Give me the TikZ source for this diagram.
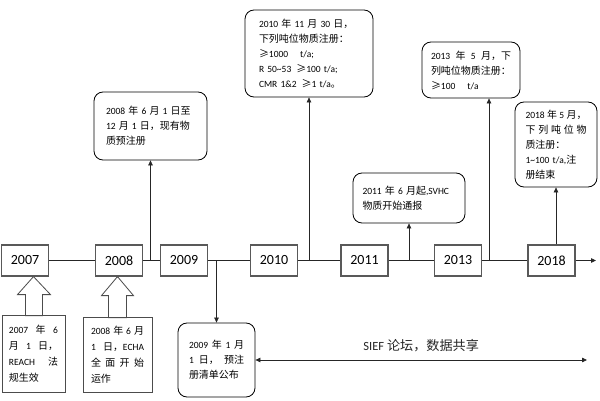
\documentclass[tikz,border=0pt]{standalone}
\usepackage{fontspec}
\setmainfont{Carlito}
\newfontfamily\zhfont[Scale=1.05]{Noto Sans CJK SC}
\newcommand\zh[1]{{\zhfont #1}}
\usepackage{tikz}
\usetikzlibrary{arrows.meta}

\begin{document}
\begin{tikzpicture}[
    x=1pt, y=-1pt,
    font=\fontsize{9.5}{15}\selectfont,
    yearbox/.style={rectangle, draw=black!65, line width=1.2pt, fill=white,
                    minimum width=47pt, minimum height=31pt, inner sep=0pt,
                    font=\fontsize{14}{16}\selectfont},
    note/.style={rectangle, rounded corners=9pt, draw=black, line width=0.8pt,
                 fill=white, align=left, inner sep=0pt},
    flatnote/.style={note, rounded corners=0pt, draw=black!70,
                     font=\fontsize{9.5}{16}\selectfont},
    arr/.style={-{Triangle[length=5pt,width=4.5pt]}, line width=0.6pt, black!85},
    biarr/.style={{Triangle[length=5pt,width=4.5pt]}-{Triangle[length=5pt,width=4.5pt]},
                  line width=0.8pt, black!85},
    tline/.style={line width=0.8pt, black!85},
    hollow/.style={draw=black!70, line width=0.8pt, fill=white, line join=miter}
]

% ---- Canvas ----
\fill[white] (0,0) rectangle (600,401);
\useasboundingbox (0,0) rectangle (600,401);

% ---- Timeline ----
\node[yearbox] (yr2007) at (25,260.5) {2007};
\node[yearbox] (yr2008) at (119,260.5) {2008};
\node[yearbox] (yr2009) at (184,260.5) {2009};
\node[yearbox] (yr2010) at (274,260.5) {2010};
\node[yearbox] (yr2011) at (364.5,260.5) {2011};
\node[yearbox] (yr2013) at (458,260.5) {2013};
\node[yearbox] (yr2018) at (551.5,260.5) {2018};
\coordinate (tlend) at (596,260.5);
\coordinate (up13) at (489,260.5);

\foreach \a/\b in {2007/2008,2008/2009,2009/2010,2010/2011,2011/2013,2013/2018}
    \draw[tline] (yr\a.east) -- (yr\b.west);
\draw[arr, line width=0.8pt] (yr2018.east) -- (tlend);

% ---- Notes above ----
\node[note, minimum width=113pt, minimum height=68pt, text width=89pt] (note08a) at (150.5,126)
    {2008 \zh{年} 6 \zh{月} 1 \zh{日至}\\12 \zh{月} 1 \zh{日，现有物}\\\zh{质预注册}};
\draw[arr] (note08a.south |- yr2008.east) -- (note08a.south);

\node[note, minimum width=128pt, minimum height=87pt, text width=100pt] (note10) at (309,53.5)
    {2010 \zh{年} 11 \zh{月} 30 \zh{日，}\\\zh{下列吨位物质注册：}\\
     \zh{≥}1000\hspace{12pt}t/a;\\
     R 50\textasciitilde53\hspace{5pt}\zh{≥}100 t/a;\\
     CMR 1\&2\hspace{5pt}\zh{≥}1 t/a\zh{。}};
\draw[arr] (note10.south |- yr2010.east) -- (note10.south);

\node[note, minimum width=112pt, minimum height=50pt, text width=93pt] (note11) at (409,198)
    {2011 \zh{年} 6 \zh{月起},SVHC\\\zh{物质开始通报}};
\draw[arr] (note11.south |- yr2011.east) -- (note11.south);

\node[note, minimum width=98pt, minimum height=56pt, text width=80pt] (note13) at (471,70)
    {2013\hfill\zh{年}\hfill 5\hfill\zh{月，下}\\\zh{列吨位物质注册：}\\\zh{≥}100\hspace{12pt}t/a};
\draw[arr] (up13) -- (up13 |- note13.south);

\node[note, minimum width=82pt, minimum height=85pt, text width=61pt] (note18) at (556,144.5)
    {2018\hfill\zh{年}\hfill 5\hfill\zh{月，}\\
     \zh{下}\hfill\zh{列}\hfill\zh{吨}\hfill\zh{位}\hfill\zh{物}\\
     \zh{质注册：}\\
     1\textasciitilde100 t/a,\zh{注}\\
     \zh{册结束}};
\draw[arr] (note18.south |- yr2018.north) -- (note18.south);

% ---- Notes below ----
\node[flatnote, minimum width=63pt, minimum height=77pt, text width=49pt] (note07) at (33.5,353.5)
    {2007\hfill\zh{年}\hfill 6\\\zh{月}\hfill 1\hfill\zh{日，}\\REACH\hfill\zh{法}\\\zh{规生效}};
\draw[hollow] (note07.north |- yr2007.south) -- ++(17,18) -- ++(-8,0) -- ++(0,21)
    -- ++(-17,0) -- ++(0,-21) -- ++(-8,0) -- cycle;

\node[flatnote, minimum width=69pt, minimum height=75pt, text width=53pt] (note08b) at (117.5,354.5)
    {2008\hfill\zh{年}\hfill 6\hfill\zh{月}\\1\hfill\zh{日，}ECHA\\
     \zh{全}\hfill\zh{面}\hfill\zh{开}\hfill\zh{始}\\\zh{运作}};
\draw[hollow] (note08b.north |- yr2008.south) -- ++(16,19) -- ++(-7,0) -- ++(0,22)
    -- ++(-18,0) -- ++(0,-22) -- ++(-7,0) -- cycle;

\node[note, minimum width=77pt, minimum height=74pt, text width=55pt] (note09) at (216.5,360)
    {2009\hfill\zh{年}\hfill 1\hfill\zh{月}\\1\hfill\zh{日，}\hfill\zh{预注}\\\zh{册清单公布}};
\draw[arr] (note09.north |- yr2009.east) -- (note09.north);

% ---- SIEF ----
\coordinate (siefend) at (587,360);
\draw[biarr] (note09.east) -- (siefend)
    node[midway, above=4pt, font=\fontsize{12.5}{14}\selectfont] (sief) {SIEF \zh{论坛，数据共享}};

\end{tikzpicture}
\end{document}
